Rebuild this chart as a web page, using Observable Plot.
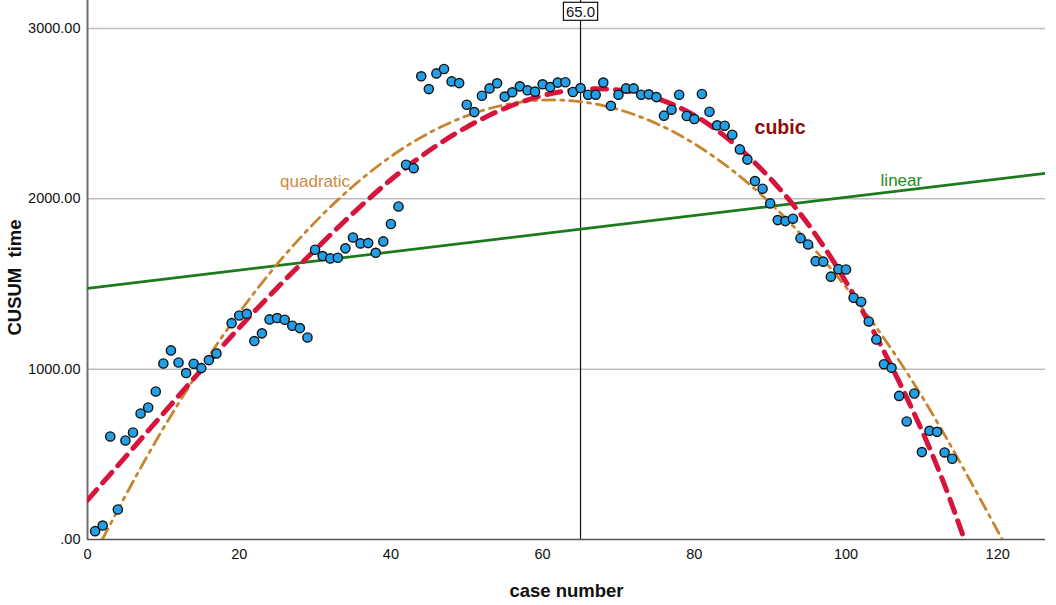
<!DOCTYPE html>
<html>
<head>
<meta charset="utf-8">
<script src="https://cdn.jsdelivr.net/npm/d3@7"></script>
<script src="https://cdn.jsdelivr.net/npm/@observablehq/plot@0.6"></script>
<style>
  html, body { margin: 0; padding: 0; background: #fff; }
  #chart { width: 1056px; height: 605px; }
</style>
</head>
<body>
<div id="chart"></div>
<script>
// ---- observed points ----
const caseNumber = [1,2,3,4,5,6,7,8,9,10,11,12,13,14,15,16,17,19,20,21,22,23,24,25,26,27,28,29,30,
  31,32,33,34,35,36,37,38,39,40,41,42,43,44,45,46,47,48,49,50,51,52,53,54,55,56,57,58,59,60,
  61,62,63,64,65,66,67,68,69,70,71,72,73,74,75,76,77,78,79,80,81,82,83,84,85,86,87,88,89,90,
  91,92,93,94,95,96,97,98,99,100,101,102,103,104,105,106,107,108,109,110,111,112,113,114];
const cusumTime = [49,82,605,176,581,628,740,775,869,1033,1110,1039,977,1032,1006,1053,1092,1270,1315,1325,
  1165,1210,1292,1300,1290,1255,1241,1186,1701,1664,1650,1654,1709,1773,1738,1740,1683,1750,1852,1955,
  2200,2180,2719,2644,2736,2762,2689,2679,2552,2509,2605,2648,2678,2600,2625,2660,2637,2629,2672,2656,
  2682,2684,2627,2650,2611,2611,2682,2546,2611,2648,2648,2611,2613,2597,2488,2523,2611,2486,2468,2615,
  2511,2431,2429,2376,2290,2230,2104,2059,1973,1875,1869,1883,1769,1732,1634,1631,1543,1587,1585,1419,
  1396,1280,1174,1029,1008,843,693,857,513,638,632,511,474];

// ---- fitted curves ----
const linearX = [0, 126.3];
const linearY = [1474, 2149];
const quadX = [1.95, 10, 20, 30, 40, 50, 60, 70, 80, 90, 100, 110, 120.6];
const quadY = [0, 653, 1331, 1863, 2248, 2487, 2579, 2524, 2323, 1975, 1481, 840, 0];
const cubicX = [0, 10, 20, 30, 40, 50, 60, 70, 80, 90, 100, 110, 115.6];
const cubicY = [231, 740, 1243, 1700, 2112, 2421, 2606, 2638, 2490, 2120, 1512, 640, 0];

// ---- reference line & annotations ----
const refCase = [65];
const refLabel = ["65.0"];
const quadLabel = {text: "quadratic", x: 30, y: 2102};
const cubicLabel = {text: "cubic", x: 91.3, y: 2419};
const linearLabel = {text: "linear", x: 107.3, y: 2110};

// ---- axis ticks ----
const xTicks = [0, 20, 40, 60, 80, 100, 120];
const yTicks = [0, 1000, 2000, 3000];

const points = caseNumber.map((c, i) => ({c, v: cusumTime[i]}));
const toRows = (xs, ys) => xs.map((x, i) => ({x, y: ys[i]}));

const font = "Liberation Sans, Arial, Helvetica, sans-serif";

const chart = Plot.plot({
  width: 1056,
  height: 605,
  marginLeft: 87,
  marginRight: 11,
  marginTop: 0,
  marginBottom: 66,
  style: {fontFamily: font, fontSize: "14px", color: "#111", background: "#fff"},
  x: {domain: [0, 126.3]},
  y: {domain: [0, 3164]},
  marks: [
    Plot.gridY(yTicks.filter(d => d > 0), {stroke: "#bdbdbd", strokeOpacity: 1, strokeWidth: 1.5}),
    Plot.ruleY([0], {stroke: "#555", strokeWidth: 1.5}),
    Plot.ruleX([0], {stroke: "#6e6e6e", strokeWidth: 2}),
    Plot.axisX({ticks: xTicks, tickSize: 0, tickPadding: 9, label: null, fontSize: 14.5, fill: "#111"}),
    Plot.axisY({ticks: yTicks, tickSize: 0, tickPadding: 7, label: null, fontSize: 14.5, fill: "#111",
      tickFormat: d => d === 0 ? ".00" : d.toFixed(2)}),
    Plot.ruleX(refCase, {stroke: "#111", strokeWidth: 1.2}),
    Plot.line(toRows(linearX, linearY), {x: "x", y: "y", stroke: "#1b7a1b", strokeWidth: 2.7, clip: true}),
    Plot.line(toRows(quadX, quadY), {x: "x", y: "y", curve: "natural", stroke: "#c8852f", strokeWidth: 2.8,
      strokeDasharray: "12,6,3,6", clip: true}),
    Plot.line(toRows(cubicX, cubicY), {x: "x", y: "y", curve: "natural", stroke: "#d7153c", strokeWidth: 5,
      strokeDasharray: "14,9", clip: true}),
    Plot.dot(points, {x: "c", y: "v", r: 4.6, fill: "#239fe8", stroke: "#111", strokeWidth: 1.4}),
    Plot.text([quadLabel], {x: "x", y: "y", text: "text", fill: "#cf8a3e", fontSize: 17,
      textAnchor: "middle", lineAnchor: "middle"}),
    Plot.text([linearLabel], {x: "x", y: "y", text: "text", fill: "#248a24", fontSize: 17,
      textAnchor: "middle", lineAnchor: "middle"}),
    Plot.text([cubicLabel], {x: "x", y: "y", text: "text", fill: "#8e0b0b", fontSize: 19.5,
      fontWeight: "bold", textAnchor: "middle", lineAnchor: "middle"}),
    Plot.text(refLabel, {x: refCase, frameAnchor: "top", dy: 11.5, text: d => d,
      fontSize: 15, fill: "#111", textAnchor: "middle", lineAnchor: "middle"}),
    Plot.text(["case number"], {frameAnchor: "bottom", dy: 44, text: d => d, fontSize: 18.5,
      fontWeight: "bold", fill: "#111", lineAnchor: "top"}),
    Plot.text(["CUSUM\u00a0\u00a0time"], {frameAnchor: "left", rotate: -90, dx: -72, dy: 7.5, text: d => d,
      fontSize: 18.5, fontWeight: "bold", fill: "#111", textAnchor: "middle", lineAnchor: "middle"})
  ]
});

document.getElementById("chart").appendChild(chart);

// white box with border behind the reference-line label
const svg = d3.select(chart);
svg.selectAll("text").filter(function() { return this.textContent === refLabel[0]; }).each(function() {
  const b = this.getBBox();
  const g = this.ownerSVGElement;
  const ctm = this.getCTM();
  const pt = g.createSVGPoint();
  pt.x = b.x; pt.y = b.y;
  const p1 = pt.matrixTransform(ctm);
  const rect = document.createElementNS("http://www.w3.org/2000/svg", "rect");
  rect.setAttribute("x", p1.x - 2.5);
  rect.setAttribute("y", p1.y - 0.5);
  rect.setAttribute("width", b.width + 5);
  rect.setAttribute("height", b.height + 1);
  rect.setAttribute("fill", "#fff");
  rect.setAttribute("stroke", "#111");
  rect.setAttribute("stroke-width", 1.2);
  const parent = this.parentNode;
  parent.parentNode.insertBefore(rect, parent);
});
</script>
</body>
</html>
